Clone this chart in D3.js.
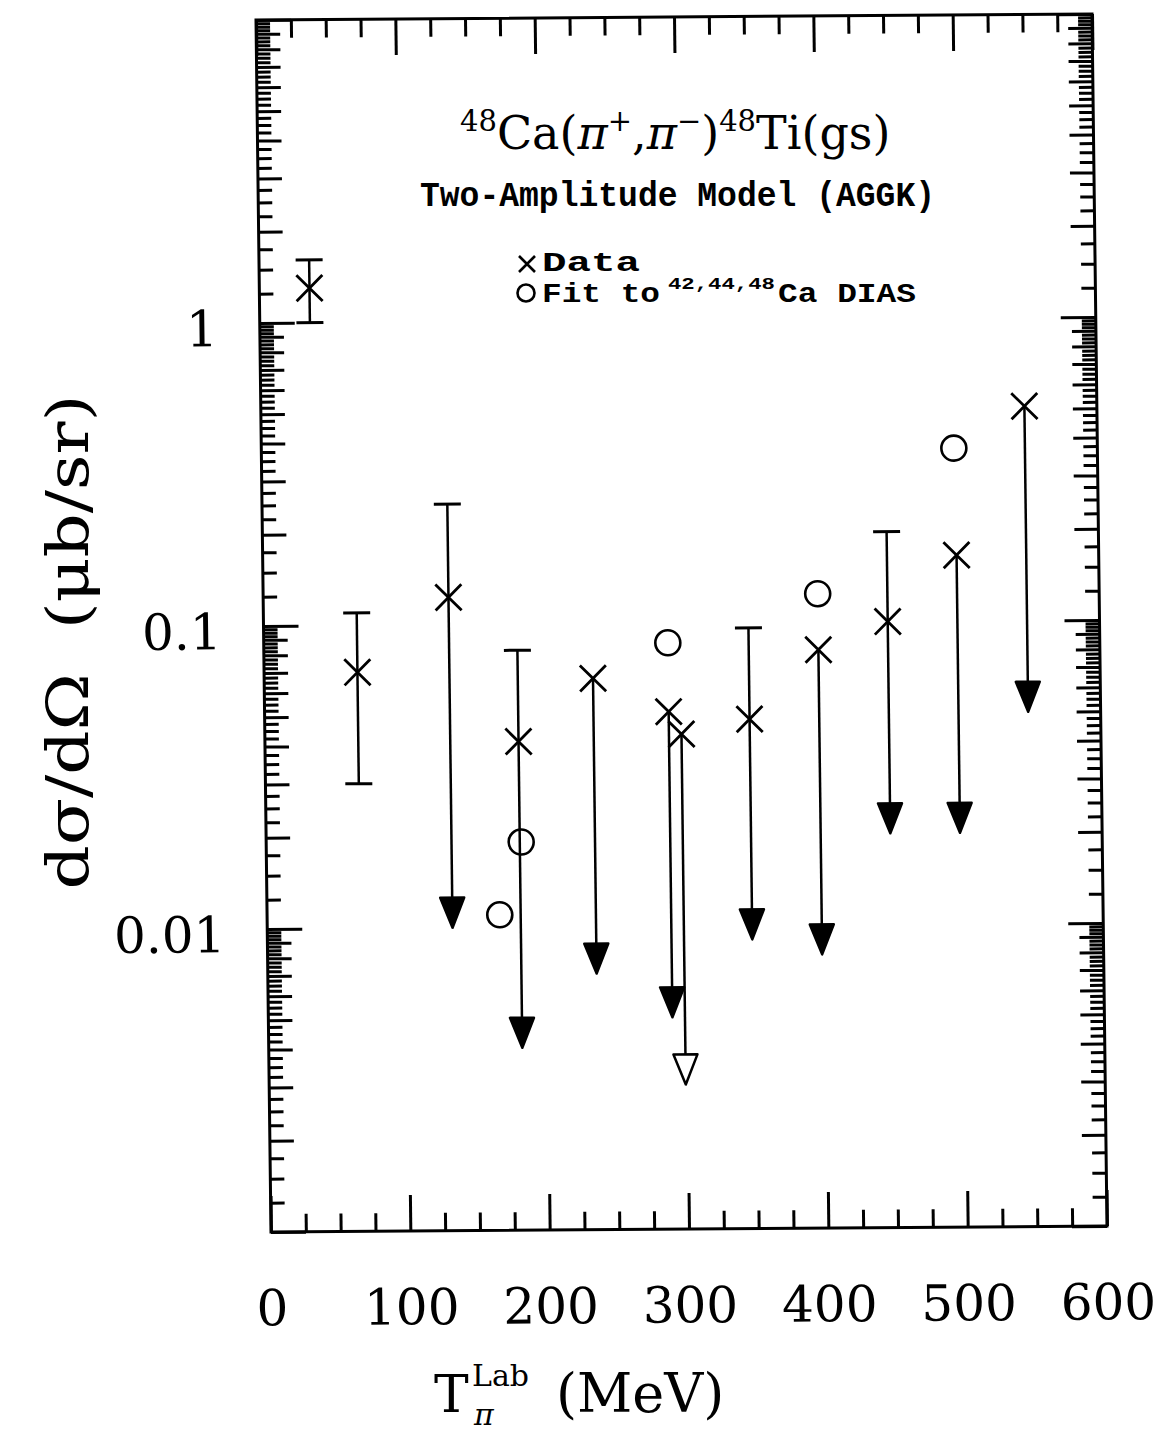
<!DOCTYPE html>
<html lang="en">
<head>
<meta charset="utf-8">
<script src="https://d3js.org/d3.v7.min.js"></script>
<style>
  body { margin: 0; background: #fff; }
  svg { display: block; }
  text { font-family: "DejaVu Serif", serif; fill: #000; }
  .mono { font-family: "Liberation Mono", monospace; font-weight: bold; }
</style>
</head>
<body>
<svg id="chart" width="1164" height="1443"></svg>
<script>
// values
var dataT     = [36, 67, 133, 182, 236, 290, 299, 348, 398, 448, 498, 548];
var dataVal   = [1.30, 0.070, 0.123, 0.041, 0.066, 0.051, 0.043, 0.048, 0.081, 0.100, 0.165, 0.51];
var dataHigh  = [1.61, 0.110, 0.25, 0.082, null, null, null, 0.096, null, 0.198, null, null];
var dataLow   = [1.00, 0.030, 0.010, 0.0040, 0.0070, 0.0050, 0.0030, 0.0090, 0.0080, 0.020, 0.020, 0.050];
var dataLimit = [false, false, true, true, true, true, true, true, true, true, true, true];

var fitT   = [167, 183, 290, 398, 497];
var fitVal = [0.0110, 0.0191, 0.0861, 0.124, 0.372];

var xTicks = [0, 100, 200, 300, 400, 500, 600];
var yTicks = [0.01, 0.1, 1];

var W = 836, H = 1212;
var svg = d3.select("#chart");

var x = d3.scaleLinear().domain([0, 600]).range([0, W]);
var y = d3.scaleLog().domain([0.001, 10]).range([H, 0]);

// the scan is a little skewed, so the plot frame is too
var g = svg.append("g")
	.attr("transform", "matrix(1," + (-6 / W) + "," + (15 / H) + ",1,256,20)");

g.append("rect")
	.attr("width", W).attr("height", H)
	.attr("fill", "none").attr("stroke", "#000").attr("stroke-width", 3);

// tick values
var xMajor = d3.range(0, 601, 100);
var xMinor = d3.range(0, 601, 25).filter(function (v) { return v % 100 != 0; });
var yDec = [], yInt = [], yMin = [];
for (var n = -3; n <= 0; n++) {
	for (var m = 1; m < 10; m += 0.25) {
		var v = m * Math.pow(10, n);
		if (m == 1) yDec.push(v);
		else if (m % 1 == 0) yInt.push(v);
		else yMin.push(v);
	}
}
yDec.push(10);

function tickAxis(axis, tr) {
	var a = g.append("g").attr("transform", tr || null).call(axis);
	a.select(".domain").remove();
	a.selectAll(".tick line").attr("stroke-width", 3).attr("stroke", "#000");
	a.selectAll(".tick text").remove();
	return a;
}

tickAxis(d3.axisBottom(x).tickValues(xMajor).tickSize(-36), "translate(0," + H + ")");
tickAxis(d3.axisBottom(x).tickValues(xMinor).tickSize(-18), "translate(0," + H + ")");
tickAxis(d3.axisTop(x).tickValues(xMajor).tickSize(-36));
tickAxis(d3.axisTop(x).tickValues(xMinor).tickSize(-18));

tickAxis(d3.axisLeft(y).tickValues(yDec).tickSize(-35));
tickAxis(d3.axisLeft(y).tickValues(yInt).tickSize(-24));
tickAxis(d3.axisLeft(y).tickValues(yMin).tickSize(-14));
tickAxis(d3.axisRight(y).tickValues(yDec).tickSize(-35), "translate(" + W + ",0)");
tickAxis(d3.axisRight(y).tickValues(yInt).tickSize(-24), "translate(" + W + ",0)");
tickAxis(d3.axisRight(y).tickValues(yMin).tickSize(-14), "translate(" + W + ",0)");

// tick labels
var yl = g.append("g").call(d3.axisLeft(y).tickValues(yTicks).tickSize(0).tickPadding(42).tickFormat(d3.format("~g")));
yl.select(".domain").remove();
yl.selectAll("text").attr("font-size", 50).attr("font-family", "DejaVu Serif").attr("dy", "0.45em");

var xl = g.append("g").attr("transform", "translate(0," + H + ")")
	.call(d3.axisBottom(x).tickValues(xTicks).tickSize(0).tickPadding(58).tickFormat(d3.format("d")));
xl.select(".domain").remove();
xl.selectAll("text").attr("font-size", 50).attr("font-family", "DejaVu Serif");

// data points
var pts = dataT.map(function (t, i) {
	return { t: t, v: dataVal[i], hi: dataHigh[i], lo: dataLow[i], lim: dataLimit[i], i: i };
});
var head = 30, hw = 12;

g.selectAll("line.bar").data(pts).enter().append("line")
	.attr("class", "bar")
	.attr("x1", function (d) { return x(d.t); })
	.attr("x2", function (d) { return x(d.t); })
	.attr("y1", function (d) { return y(d.hi != null ? d.hi : d.v); })
	.attr("y2", function (d) { return d.lim ? y(d.lo) - head + 2 : y(d.lo); })
	.attr("stroke", "#000").attr("stroke-width", 2.5);

g.selectAll("line.capHi").data(pts.filter(function (d) { return d.hi != null; })).enter().append("line")
	.attr("class", "capHi")
	.attr("x1", function (d) { return x(d.t) - 13.5; })
	.attr("x2", function (d) { return x(d.t) + 13.5; })
	.attr("y1", function (d) { return y(d.hi); })
	.attr("y2", function (d) { return y(d.hi); })
	.attr("stroke", "#000").attr("stroke-width", 3);

g.selectAll("line.capLo").data(pts.filter(function (d) { return !d.lim; })).enter().append("line")
	.attr("class", "capLo")
	.attr("x1", function (d) { return x(d.t) - 13.5; })
	.attr("x2", function (d) { return x(d.t) + 13.5; })
	.attr("y1", function (d) { return y(d.lo); })
	.attr("y2", function (d) { return y(d.lo); })
	.attr("stroke", "#000").attr("stroke-width", 3);

g.selectAll("path.arrow").data(pts.filter(function (d) { return d.lim; })).enter().append("path")
	.attr("class", "arrow")
	.attr("transform", function (d) { return "translate(" + x(d.t) + "," + y(d.lo) + ")"; })
	.attr("d", "M0,0L" + (-hw) + "," + (-head) + "L" + hw + "," + (-head) + "Z")
	.attr("fill", function (d) { return d.i == 6 ? "#fff" : "#000"; })
	.attr("stroke", "#000").attr("stroke-width", 2.5).attr("stroke-linejoin", "round");

var cross = "M-13,-13L13,13M-13,13L13,-13";
g.selectAll("path.cross").data(pts).enter().append("path")
	.attr("class", "cross")
	.attr("transform", function (d) { return "translate(" + x(d.t) + "," + y(d.v) + ")"; })
	.attr("d", cross)
	.attr("fill", "none").attr("stroke", "#000").attr("stroke-width", 2.8);

g.selectAll("circle.fit").data(fitT).enter().append("circle")
	.attr("class", "fit")
	.attr("cx", function (d) { return x(d); })
	.attr("cy", function (d, i) { return y(fitVal[i]); })
	.attr("r", 12.5)
	.attr("fill", "none").attr("stroke", "#000").attr("stroke-width", 2.6);

// title block
var title = svg.append("text").attr("x", 460).attr("y", 149).attr("font-size", 46);
var parts = [["48", 1], ["Ca(", 0], ["\u03c0", 2], ["+", 1], [",", 0], ["\u03c0", 2], ["\u2212", 1], [")", 0], ["48", 1], ["Ti(gs)", 0]];
var up = 0;
parts.forEach(function (p) {
	var sh = p[1] == 1 ? -18 : 0;
	title.append("tspan")
		.attr("dy", sh - up)
		.attr("font-size", p[1] == 1 ? 29 : 46)
		.attr("font-style", p[1] == 2 ? "italic" : null)
		.text(p[0]);
	up = sh;
});

function monoText(tx, ty, fs, len, s) {
	svg.append("text")
		.attr("class", "mono")
		.attr("x", tx).attr("y", ty)
		.attr("font-size", fs)
		.attr("textLength", len).attr("lengthAdjust", "spacingAndGlyphs")
		.text(s);
}
monoText(420, 206, 35, 515, "Two-Amplitude Model (AGGK)");

// legend
svg.append("path")
	.attr("transform", "translate(527,264)")
	.attr("d", "M-8,-8L8,8M-8,8L8,-8")
	.attr("stroke", "#000").attr("stroke-width", 2.6).attr("fill", "none");
svg.append("circle")
	.attr("cx", 526).attr("cy", 293).attr("r", 8.5)
	.attr("stroke", "#000").attr("stroke-width", 2.6).attr("fill", "none");
monoText(542, 271, 28, 98, "Data");
monoText(542, 302, 28, 118, "Fit to");
monoText(668, 289, 17, 107, "42,44,48");
monoText(778, 302, 28, 138, "Ca DIAS");

// axis titles
svg.append("text")
	.attr("transform", "translate(88,642) rotate(-90)")
	.attr("text-anchor", "middle")
	.attr("font-size", 58)
	.attr("textLength", 495).attr("lengthAdjust", "spacingAndGlyphs")
	.text("d\u03c3/d\u03a9\u00a0\u00a0(\u03bcb/sr)");

svg.append("text").attr("x", 434).attr("y", 1412).attr("font-size", 52).text("T");
svg.append("text").attr("x", 472).attr("y", 1386).attr("font-size", 30).text("Lab");
svg.append("text").attr("x", 474).attr("y", 1425).attr("font-size", 30).attr("font-style", "italic").text("\u03c0");
svg.append("text").attr("x", 556).attr("y", 1412).attr("font-size", 54).text("(MeV)");
</script>
</body>
</html>
